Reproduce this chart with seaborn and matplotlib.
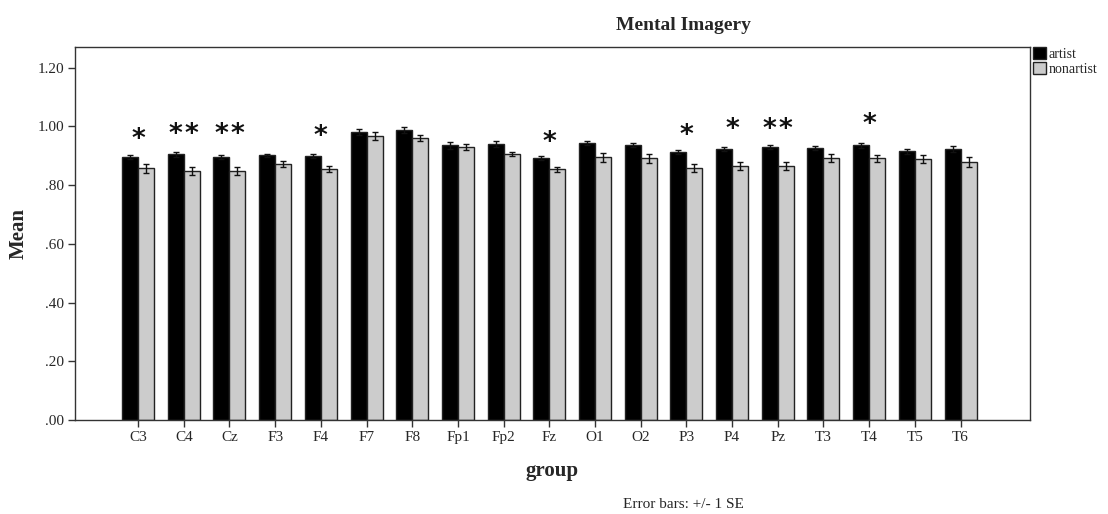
import numpy as np
import pandas as pd
import seaborn as sns
import matplotlib.pyplot as plt
from matplotlib.patches import Patch

# Electrode sites and group means (+/- 1 SE)
sites = ["C3", "C4", "Cz", "F3", "F4", "F7", "F8", "Fp1", "Fp2", "Fz",
         "O1", "O2", "P3", "P4", "Pz", "T3", "T4", "T5", "T6"]
artist_mean = [0.895, 0.905, 0.895, 0.901, 0.898, 0.980, 0.986, 0.935, 0.939, 0.891,
               0.942, 0.935, 0.912, 0.922, 0.929, 0.925, 0.935, 0.915, 0.922]
nonartist_mean = [0.857, 0.847, 0.847, 0.871, 0.854, 0.966, 0.959, 0.928, 0.905, 0.854,
                  0.895, 0.891, 0.857, 0.864, 0.864, 0.891, 0.891, 0.888, 0.878]
artist_se = [0.008, 0.008, 0.007, 0.005, 0.007, 0.010, 0.010, 0.012, 0.010, 0.007,
             0.007, 0.007, 0.008, 0.007, 0.008, 0.007, 0.008, 0.008, 0.010]
nonartist_se = [0.015, 0.013, 0.013, 0.010, 0.010, 0.013, 0.010, 0.010, 0.007, 0.008,
                0.015, 0.015, 0.014, 0.014, 0.014, 0.013, 0.012, 0.014, 0.016]
groups = ["artist", "nonartist"]

# Significance markers (number of stars) and their heights
sig_sites = ["C3", "C4", "Cz", "F4", "Fz", "P3", "P4", "Pz", "T4"]
sig_count = [1, 2, 2, 1, 1, 1, 1, 2, 1]
sig_y = [0.952, 0.970, 0.970, 0.962, 0.944, 0.968, 0.987, 0.987, 1.006]

y_ticks = [0.0, 0.2, 0.4, 0.6, 0.8, 1.0, 1.2]
y_tick_labels = [".00", ".20", ".40", ".60", ".80", "1.00", "1.20"]

df = pd.DataFrame({
    "group": sites * 2,
    "Mean": artist_mean + nonartist_mean,
    "se": artist_se + nonartist_se,
    "type": ["artist"] * len(sites) + ["nonartist"] * len(sites),
})

sns.set_style("white")
plt.rcParams["font.family"] = ["Liberation Serif", "DejaVu Serif"]

fig = plt.figure(figsize=(11.08, 5.14), dpi=100)
ax = fig.add_axes([0.0677, 0.1829, 0.8619, 0.7257])

palette = {"artist": "#000000", "nonartist": "#cccccc"}
sns.barplot(data=df, x="group", y="Mean", hue="type", order=sites,
            hue_order=groups, palette=palette, width=0.7, errorbar=None,
            edgecolor="#222222", linewidth=1.0, saturation=1, ax=ax, legend=False)

# Error bars drawn at each bar's centre
for container, g in zip(ax.containers, groups):
    sub = df[df["type"] == g].set_index("group").loc[sites]
    xs = [p.get_x() + p.get_width() / 2 for p in container.patches]
    ax.errorbar(xs, sub["Mean"].values, yerr=sub["se"].values, fmt="none",
                ecolor="#111111", elinewidth=1.0, capsize=2.5, capthick=1.0, zorder=5)

# Stars centred over each site; pairs are spread slightly apart
star_gap = 0.35
for s, n, yv in zip(sig_sites, sig_count, sig_y):
    xc = sites.index(s)
    offsets = np.arange(n) * star_gap - (n - 1) * star_gap / 2
    for dx in offsets:
        ax.text(xc + dx, yv, "*", ha="center", va="center", fontsize=19,
                fontweight="bold", family="DejaVu Sans", color="#111111")

ax.set_ylim(0, 1.27)
ax.set_xlim(-1.38, 19.52)
ax.set_yticks(y_ticks)
ax.set_yticklabels(y_tick_labels, fontsize=11)
ax.tick_params(axis="both", direction="out", length=5, width=1, color="#333333",
               left=True, bottom=True, labelsize=11, pad=3)
for sp in ax.spines.values():
    sp.set_visible(True)
    sp.set_color("#333333")
    sp.set_linewidth(1.0)
ax.set_xlabel("group", fontsize=15, fontweight="bold", labelpad=12)
ax.set_ylabel("Mean", fontsize=15, fontweight="bold", labelpad=6)

fig.text(683 / 1108, 1 - 25 / 514, "Mental Imagery", ha="center", va="center",
         fontsize=14, fontweight="bold")
fig.text(683 / 1108, 1 - 505 / 514, "Error bars: +/- 1 SE", ha="center",
         va="center", fontsize=11)

handles = [Patch(facecolor=palette[g], edgecolor="#222222", label=g) for g in groups]
fig.legend(handles=handles, loc="upper left", bbox_to_anchor=(1032 / 1108, 1 - 46 / 514),
           frameon=False, fontsize=10, handlelength=0.9, handleheight=0.9,
           handletextpad=0.2, labelspacing=0.1, borderpad=0.1, borderaxespad=0)

fig.savefig("out.png", dpi=100)
